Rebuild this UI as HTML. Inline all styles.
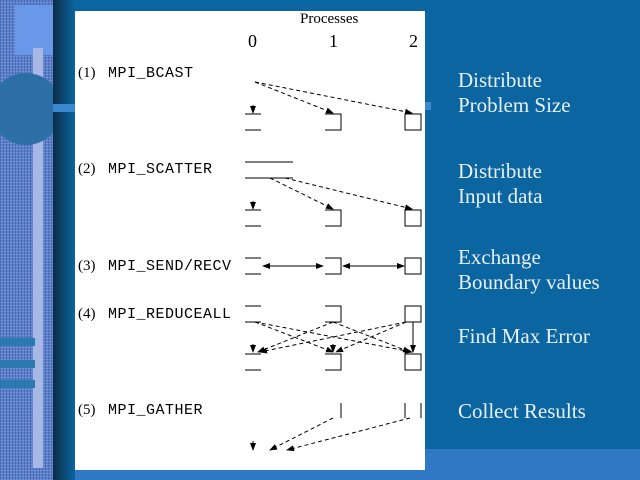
<!DOCTYPE html>
<html><head><style>
body{margin:0;width:640px;height:480px;overflow:hidden;background:#0a65a0;position:relative;font-family:"Liberation Serif",serif}
.a{position:absolute}
.r{position:absolute;left:458px;color:#e8f0f8;font-size:21px;line-height:25px}
.m{position:absolute;font-family:"Liberation Mono",monospace;font-size:15px;letter-spacing:0.5px;color:#000;left:108px}
.n{position:absolute;font-family:"Liberation Serif",serif;font-size:15px;left:78px;color:#000}
</style></head><body>
<div class="a" style="left:0;top:0;width:53px;height:480px;background:#5a80cc"></div>
<div class="a" style="left:0;top:0;width:53px;height:480px;background:repeating-linear-gradient(90deg,rgba(40,60,140,.35) 0 1px,transparent 1px 3px),repeating-linear-gradient(0deg,rgba(200,210,240,.25) 0 1px,transparent 1px 3px)"></div>
<div class="a" style="left:15px;top:5px;width:38px;height:50px;background:#6a98e8"></div>
<div class="a" style="left:33px;top:48px;width:10px;height:420px;background:#a8b8e4"></div>
<div class="a" style="left:-10px;top:73px;width:72px;height:72px;border-radius:50%;background:#2c6fa6"></div>
<div class="a" style="left:0;top:338px;width:35px;height:8px;background:#2a7ab0"></div>
<div class="a" style="left:0;top:360px;width:35px;height:8px;background:#2a7ab0"></div>
<div class="a" style="left:0;top:380px;width:35px;height:8px;background:#2a7ab0"></div>
<div class="a" style="left:53px;top:0;width:22px;height:480px;background:linear-gradient(90deg,#0c2c48,#0a65a0)"></div>
<div class="a" style="left:53px;top:104px;width:22px;height:8px;background:#3a88d0"></div>
<div class="a" style="left:425px;top:102px;width:6px;height:8px;background:#3a88d0"></div>
<div class="a" style="left:75px;top:449px;width:565px;height:31px;background:#2f78c4"></div>
<div class="a" style="left:75px;top:11px;width:350px;height:459px;background:#fff"></div>
<div class="a" style="left:300px;top:11px;font-size:15px">Processes</div>
<div class="a" style="left:248px;top:31px;font-size:18px">0</div>
<div class="a" style="left:329px;top:31px;font-size:18px">1</div>
<div class="a" style="left:409px;top:31px;font-size:18px">2</div>
<div class="n" style="top:65px">(1)</div><div class="m" style="top:65px">MPI_BCAST</div>
<div class="n" style="top:161px">(2)</div><div class="m" style="top:161px">MPI_SCATTER</div>
<div class="n" style="top:258px">(3)</div><div class="m" style="top:258px">MPI_SEND/RECV</div>
<div class="n" style="top:306px">(4)</div><div class="m" style="top:306px">MPI_REDUCEALL</div>
<div class="n" style="top:402px">(5)</div><div class="m" style="top:402px">MPI_GATHER</div>
<svg class="a" style="left:0;top:0" width="640" height="480">
<defs><marker id="h" markerWidth="8" markerHeight="6" refX="7" refY="3" orient="auto" markerUnits="userSpaceOnUse"><path d="M0,0L8,3L0,6z" fill="#000"/></marker>
<marker id="t" markerWidth="8" markerHeight="6" refX="1" refY="3" orient="auto" markerUnits="userSpaceOnUse"><path d="M8,0L0,3L8,6z" fill="#000"/></marker></defs>
<g stroke="#000" stroke-width="1" fill="none">
<path d="M245 114H261M245 130H261M325 114H341V130H325M405 114H421V130H405z"/>
<path d="M253 105V113" marker-end="url(#h)"/>
<g stroke-dasharray="4,3"><path d="M255 82L333 113" marker-end="url(#h)"/><path d="M255 82L412 113" marker-end="url(#h)"/></g>
<path d="M245 162H293M245 178H293M245 210H261M245 226H261M325 210H341V226H325M405 210H421V226H405z"/>
<path d="M253 201V209" marker-end="url(#h)"/>
<g stroke-dasharray="4,3"><path d="M270 178L333 209" marker-end="url(#h)"/><path d="M285 178L412 209" marker-end="url(#h)"/></g>
<path d="M245 258H261M245 274H261M325 258H341V274H325M405 258H421V274H405z"/>
<path d="M263 266H323" marker-start="url(#t)" marker-end="url(#h)"/>
<path d="M343 266H404" marker-start="url(#t)" marker-end="url(#h)"/>
<path d="M245 306H261M245 322H261M325 306H341V322H325M405 306H421V322H405z"/>
<path d="M245 354H261M245 370H261M325 354H341V370H325M405 354H421V370H405z"/>
<path d="M413 322V352" marker-end="url(#h)"/>
<g stroke-dasharray="4,3">
<path d="M255 322L333 352" marker-end="url(#h)"/><path d="M255 322L412 352" marker-end="url(#h)"/>
<path d="M333 322L258 352" marker-end="url(#h)"/><path d="M333 322L410 352" marker-end="url(#h)"/>
<path d="M406 322L260 352" marker-end="url(#h)"/><path d="M406 322L336 352" marker-end="url(#h)"/>
</g>
<path d="M253 344V352" marker-end="url(#h)"/><path d="M333 344V352" marker-end="url(#h)"/>
<path d="M341 403V418M405 403V418M421 403V418"/>
<path d="M253 441V450" marker-end="url(#h)"/>
<g stroke-dasharray="4,3"><path d="M333 418L270 450" marker-end="url(#h)"/><path d="M410 418L287 450" marker-end="url(#h)"/></g>
</g></svg>
<div class="r" style="top:68px">Distribute<br>Problem Size</div>
<div class="r" style="top:159px">Distribute<br>Input data</div>
<div class="r" style="top:245px">Exchange<br>Boundary values</div>
<div class="r" style="top:324px">Find Max Error</div>
<div class="r" style="top:399px">Collect Results</div>
</body></html>
